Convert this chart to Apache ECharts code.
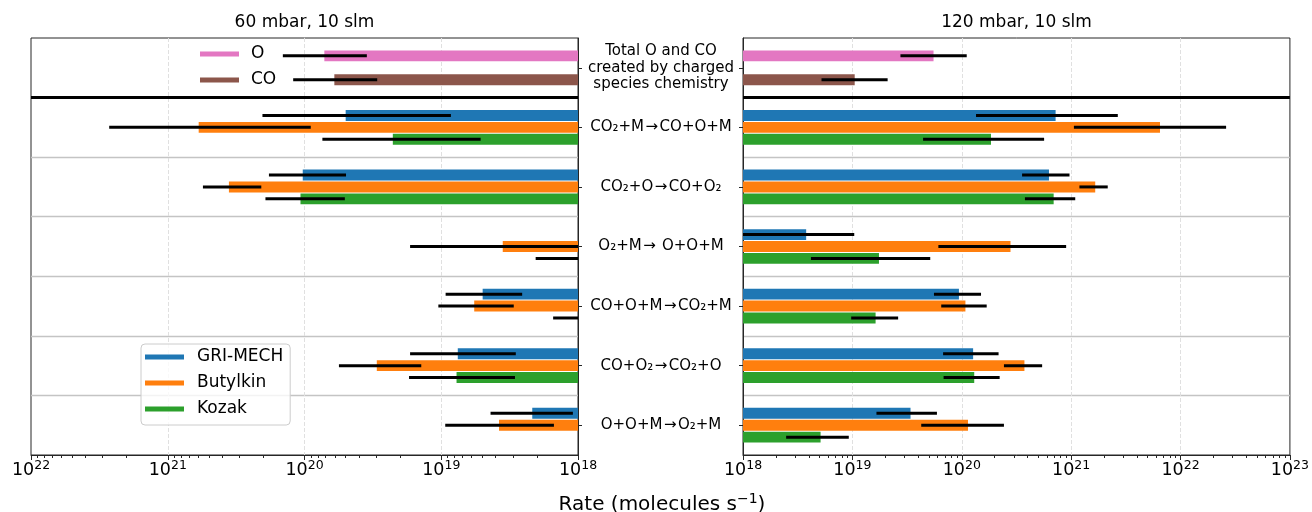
<!DOCTYPE html>
<html>
<head>
<meta charset="utf-8">
<script src="https://cdn.jsdelivr.net/npm/echarts@6/dist/echarts.min.js"></script>
<style>html,body{margin:0;padding:0;background:#fff}#chart{width:1312px;height:512px}</style>
</head>
<body>
<div id="chart"></div>
<script>
// ---------- data ----------
const categories = [
  'Total O and CO\ncreated by charged\nspecies chemistry',
  'CO₂+M\u200A→\u200ACO+O+M',
  'CO₂+O\u200A→\u200ACO+O₂',
  'O₂+M\u200A→\u200A O+O+M',
  'CO+O+M\u200A→\u200ACO₂+M',
  'CO+O₂\u200A→\u200ACO₂+O',
  'O+O+M\u200A→\u200AO₂+M'
];
const panelTitles = ['60 mbar, 10 slm', '120 mbar, 10 slm'];
const axisNameParts = ['Rate (molecules s', '−1', ')'];

// 60 mbar
const gri60   = [null, 5.0e19, 1.03e20, null, 4.98e18, 7.57e18, 2.16e18];
const gri60Lo = [null, 8.5e18, 4.97e19, null, 2.56e18, 2.85e18, 1.09e18];
const gri60Hi = [null, 2.03e20, 1.82e20, null, 9.29e18, 1.69e19, 4.36e18];
const but60   = [null, 5.94e20, 3.57e20, 3.55e18, 5.74e18, 2.96e19, 3.78e18];
const but60Lo = [null, 9.0e19, 2.07e20, 5e17, 2.95e18, 1.4e19, 1.5e18];
const but60Hi = [null, 2.68e21, 5.53e20, 1.69e19, 1.05e19, 5.6e19, 9.35e18];
const koz60   = [null, 2.26e19, 1.07e20, 1.0e18, 1.0e18, 7.73e18, null];
const koz60Lo = [null, 5.15e18, 5.07e19, 5e17, 5e17, 2.89e18, null];
const koz60Hi = [null, 7.4e19, 1.93e20, 2.04e18, 1.52e18, 1.72e19, null];
const o60   = [7.16e19], o60Lo = [3.5e19], o60Hi = [1.44e20];
const co60  = [6.05e19], co60Lo = [2.94e19], co60Hi = [1.21e20];

// 120 mbar
const gri120   = [null, 7.21e20, 6.27e20, 3.78e18, 9.42e19, 1.27e20, 3.4e19];
const gri120Lo = [null, 1.35e20, 3.56e20, 5e17, 5.57e19, 6.75e19, 1.66e19];
const gri120Hi = [null, 2.67e21, 9.66e20, 1.04e19, 1.5e20, 2.17e20, 5.93e19];
const but120   = [null, 6.49e21, 1.66e21, 2.79e20, 1.08e20, 3.74e20, 1.14e20];
const but120Lo = [null, 1.06e21, 1.19e21, 6.11e19, 6.49e19, 2.43e20, 4.26e19];
const but120Hi = [null, 2.61e22, 2.16e21, 9.0e20, 1.69e20, 5.43e20, 2.43e20];
const koz120   = [null, 1.85e20, 6.92e20, 1.75e19, 1.63e19, 1.3e20, 5.12e18];
const koz120Lo = [null, 4.43e19, 3.78e20, 4.18e18, 9.75e18, 6.82e19, 2.48e18];
const koz120Hi = [null, 5.66e20, 1.09e21, 5.15e19, 2.62e19, 2.22e20, 9.27e18];
const o120  = [5.52e19], o120Lo = [2.75e19], o120Hi = [1.11e20];
const co120 = [1.05e19], co120Lo = [5.22e18], co120Hi = [2.1e19];

// ---------- helpers ----------
const FONT = 'DejaVu Sans';
const C = { gri:'#1f77b4', but:'#ff7f0e', koz:'#2ca02c', o:'#e377c2', co:'#8c564b' };
const XMIN = 1e18, XMAX_L = 1e22, XMAX_R = 1e23;

function toData(v, lo, hi) {
  const out = [];
  v.forEach((val, i) => { if (val != null) out.push([val, i, lo[i], hi[i]]); });
  return out;
}
function minorTicks(fromExp, toExp) {
  const arr = [];
  for (let e = fromExp; e < toExp; e++) for (let k = 2; k <= 9; k++) arr.push(k * Math.pow(10, e));
  return arr;
}
function supLabel(v) {
  return '{b|10}{s|' + Math.round(Math.log10(v)) + '}';
}
const tickRich = {
  b: { fontFamily: FONT, fontSize: 17.5, lineHeight: 18, color: '#000' },
  s: { fontFamily: FONT, fontSize: 12.5, lineHeight: 13, color: '#000', padding: [0, 0, 10, 0] }
};
function barRenderer(offsetIdx) {
  return function (params, api) {
    const cs = params.coordSys;
    const cat = api.value(1);
    const band = cs.height / categories.length;
    const p0 = api.coord([XMIN, cat]);
    const p1 = api.coord([api.value(0), cat]);
    const h = band * 0.2;
    const yc = p0[1] + offsetIdx * h;
    const clampX = x => Math.max(cs.x, Math.min(cs.x + cs.width, x));
    const xa = clampX(p0[0]), xb = clampX(p1[0]);
    const e1 = clampX(api.coord([api.value(2), cat])[0]);
    const e2 = clampX(api.coord([api.value(3), cat])[0]);
    return { type: 'group', children: [
      { type: 'rect', shape: { x: Math.min(xa, xb), y: yc - h / 2 + 0.5, width: Math.abs(xb - xa), height: h - 1 },
        style: { fill: api.visual('color') } },
      { type: 'line', shape: { x1: e1, y1: yc, x2: e2, y2: yc }, style: { stroke: '#000', lineWidth: 3 } }
    ]};
  };
}
function sepRenderer(params, api) {
  const cs = params.coordSys;
  const band = cs.height / categories.length;
  const p = api.coord([XMIN, api.value(1)]);
  const y = p[1] + band / 2;
  return { type: 'line', shape: { x1: cs.x, y1: y, x2: cs.x + cs.width, y2: y }, style: { stroke: '#000', lineWidth: 3 } };
}
function barSeries(name, color, offsetIdx, data, xi, yi) {
  return { type: 'custom', name, xAxisIndex: xi, yAxisIndex: yi, itemStyle: { color },
    encode: { x: 0, y: 1 }, renderItem: barRenderer(offsetIdx), data, z: 5, silent: true };
}
function sepSeries(xi, yi) {
  return { type: 'custom', name: 'sep' + xi, xAxisIndex: xi, yAxisIndex: yi, encode: { x: 0, y: 1 },
    renderItem: sepRenderer, data: [[XMIN, 0]], z: 8, silent: true };
}

const frameColor = '#262626';
function mainX(grid, max, inverse) {
  return { gridIndex: grid, type: 'log', logBase: 10, min: XMIN, max, inverse, position: 'bottom',
    axisLine: { show: true, lineStyle: { color: frameColor, width: 1 } },
    axisTick: { show: true, length: 5, inside: false, lineStyle: { color: frameColor } },
    axisLabel: { show: true, formatter: supLabel, rich: tickRich, margin: 6.5 },
    splitLine: { show: true, showMinLine: false, showMaxLine: false, lineStyle: { type: 'dashed', color: '#e0e0e0', width: 1 } },
    minorTick: { show: false } };
}
function minorX(grid, max, inverse, ticks) {
  return { gridIndex: grid, type: 'log', logBase: 10, min: XMIN, max, inverse, position: 'bottom',
    axisLine: { show: false }, axisLabel: { show: false }, splitLine: { show: false },
    axisTick: { show: true, length: 3, inside: false, customValues: ticks, lineStyle: { color: frameColor } } };
}
function catY(grid, position, showLabel) {
  return { gridIndex: grid, type: 'category', data: categories, inverse: true, position,
    axisLine: { show: true, lineStyle: { color: frameColor } },
    axisTick: { show: true, alignWithLabel: true, length: 4, inside: false, lineStyle: { color: frameColor } },
    axisLabel: { show: showLabel, interval: 0, align: 'center', margin: 82, fontFamily: FONT, fontSize: 15,
      lineHeight: 16.5, color: '#000', padding: [3, 0, 0, 0] },
    splitLine: { show: true, showMinLine: false, showMaxLine: false, lineStyle: { color: '#c4c4c4', width: 1.3 } } };
}

const option = {
  animation: false,
  backgroundColor: '#fff',
  textStyle: { fontFamily: FONT },
  grid: [
    { left: 31, top: 38, width: 547, height: 417, show: true, borderColor: frameColor, borderWidth: 1, backgroundColor: 'transparent' },
    { left: 743, top: 38, width: 547, height: 417, show: true, borderColor: frameColor, borderWidth: 1, backgroundColor: 'transparent' }
  ],
  xAxis: [
    mainX(0, XMAX_L, true), minorX(0, XMAX_L, true, minorTicks(18, 22)),
    mainX(1, XMAX_R, false), minorX(1, XMAX_R, false, minorTicks(18, 23))
  ],
  yAxis: [ catY(0, 'right', false), catY(1, 'left', true) ],
  legend: [
    { data: ['O', 'CO'], orient: 'vertical', left: 200, top: 44, padding: 0, icon: 'rect', itemWidth: 39, itemHeight: 5, itemGap: 6,
      selectedMode: false, textStyle: { fontFamily: FONT, fontSize: 17, lineHeight: 20, color: '#000', padding: [0, 0, 0, 7] } },
    { data: ['GRI-MECH', 'Butylkin', 'Kozak'], orient: 'vertical', left: 141, top: 344, padding: [3, 7, 6, 4], icon: 'rect',
      itemWidth: 39, itemHeight: 5, itemGap: 6, selectedMode: false, borderColor: '#cccccc', borderWidth: 1, borderRadius: 4,
      backgroundColor: 'rgba(255,255,255,0.8)',
      textStyle: { fontFamily: FONT, fontSize: 17, lineHeight: 20, color: '#000', padding: [0, 0, 0, 8] } }
  ],
  graphic: [
    { type: 'text', x: 304.5, y: 23, style: { text: panelTitles[0], font: '17px "DejaVu Sans"', fill: '#000', align: 'center', verticalAlign: 'middle', textAlign: 'center', textVerticalAlign: 'middle' } },
    { type: 'text', x: 1016.5, y: 23, style: { text: panelTitles[1], font: '17px "DejaVu Sans"', fill: '#000', align: 'center', verticalAlign: 'middle', textAlign: 'center', textVerticalAlign: 'middle' } },
    { type: 'text', x: 662, y: 505, style: {
        text: '{b|' + axisNameParts[0] + '}{s|' + axisNameParts[1] + '}{b|' + axisNameParts[2] + '}',
        fill: '#000', align: 'center', verticalAlign: 'middle', textAlign: 'center', textVerticalAlign: 'middle',
        rich: {
          b: { fontFamily: FONT, fontSize: 20, lineHeight: 24, fill: '#000', color: '#000' },
          s: { fontFamily: FONT, fontSize: 14, lineHeight: 15, padding: [0, 0, 12, 0], fill: '#000', color: '#000' }
        } } }
  ],
  series: [
    barSeries('GRI-MECH', C.gri, -1, toData(gri60, gri60Lo, gri60Hi), 0, 0),
    barSeries('Butylkin', C.but, 0, toData(but60, but60Lo, but60Hi), 0, 0),
    barSeries('Kozak', C.koz, 1, toData(koz60, koz60Lo, koz60Hi), 0, 0),
    barSeries('O', C.o, -1, toData(o60, o60Lo, o60Hi), 0, 0),
    barSeries('CO', C.co, 1, toData(co60, co60Lo, co60Hi), 0, 0),
    sepSeries(0, 0),
    barSeries('GRI-MECH', C.gri, -1, toData(gri120, gri120Lo, gri120Hi), 2, 1),
    barSeries('Butylkin', C.but, 0, toData(but120, but120Lo, but120Hi), 2, 1),
    barSeries('Kozak', C.koz, 1, toData(koz120, koz120Lo, koz120Hi), 2, 1),
    barSeries('O', C.o, -1, toData(o120, o120Lo, o120Hi), 2, 1),
    barSeries('CO', C.co, 1, toData(co120, co120Lo, co120Hi), 2, 1),
    sepSeries(2, 1)
  ]
};
const chart = echarts.init(document.getElementById('chart'), null, { renderer: 'canvas' });
chart.setOption(option);
</script>
</body>
</html>
